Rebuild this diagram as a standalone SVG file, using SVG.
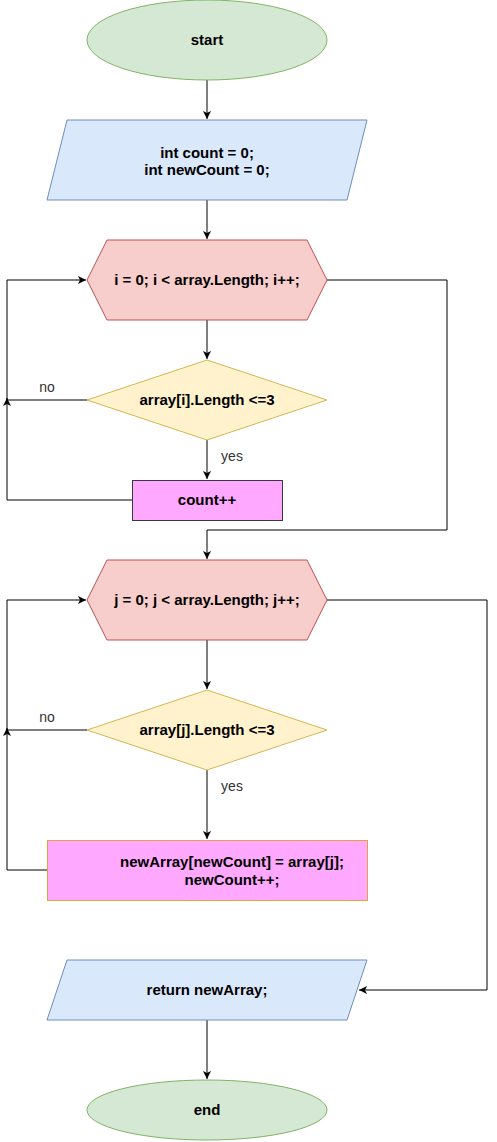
<svg xmlns="http://www.w3.org/2000/svg" width="497" height="1142" viewBox="0 0 497 1142">
<defs>
<marker id="arr" markerWidth="9" markerHeight="9" refX="8" refY="4.5" orient="auto" markerUnits="userSpaceOnUse">
<path d="M0,0.5 L8,4.5 L0,8.5 L2,4.5 Z" fill="#000"/>
</marker>
<style>
text{font-family:"Liberation Sans",Arial,sans-serif;font-size:15px;text-anchor:middle;fill:#000}
.b{font-weight:bold}
.lbl{fill:#333;font-size:14px}
.term{fill:#d5e8d4;stroke:#82b366}
.io{fill:#dae8fc;stroke:#6c8ebf}
.loop{fill:#f8cecc;stroke:#b85450}
.dec{fill:#fff2cc;stroke:#d6b656}
.proc{fill:#ffa8ff}
.e{fill:none;stroke:#000;stroke-width:1}
</style>
</defs>
<rect width="497" height="1142" fill="#fff"/>
<g id="connectors">
<path class="e" d="M207,80 V119" marker-end="url(#arr)"/>
<path class="e" d="M207,200 V239" marker-end="url(#arr)"/>
<path class="e" d="M207,320 V359" marker-end="url(#arr)"/>
<path class="e" d="M207,440 V479" marker-end="url(#arr)"/>
<path class="e" d="M132,500 H7 V280 H86" marker-end="url(#arr)"/>
<path class="e" d="M87,400 H7 V398" marker-end="url(#arr)"/>
<path class="e" d="M327,280 H447 V530 H207 V559" marker-end="url(#arr)"/>
<path class="e" d="M207,640 V689" marker-end="url(#arr)"/>
<path class="e" d="M207,770 V839" marker-end="url(#arr)"/>
<path class="e" d="M47,870 H7 V600 H86" marker-end="url(#arr)"/>
<path class="e" d="M87,730 H7 V728" marker-end="url(#arr)"/>
<path class="e" d="M327,600 H487 V990 H359" marker-end="url(#arr)"/>
<path class="e" d="M207,1020 V1079" marker-end="url(#arr)"/>
<text class="lbl" x="47" y="392">no</text>
<text class="lbl" x="232" y="461">yes</text>
<text class="lbl" x="47" y="722">no</text>
<text class="lbl" x="232" y="791">yes</text>
</g>
<g id="start">
<ellipse class="term" cx="207" cy="40" rx="120" ry="40"/>
<text class="b" x="207" y="45">start</text>
</g>
<g id="init">
<polygon class="io" points="67,120 367,120 347,200 47,200"/>
<text class="b" x="207" y="158">int count = 0;</text>
<text class="b" x="207" y="175">int newCount = 0;</text>
</g>
<g id="loop1">
<polygon class="loop" points="107,240 307,240 327,280 307,320 107,320 87,280"/>
<text class="b" x="207" y="285">i = 0; i &lt; array.Length; i++;</text>
</g>
<g id="cond1">
<polygon class="dec" points="207,360 327,400 207,440 87,400"/>
<text class="b" x="207" y="405">array[i].Length &lt;=3</text>
</g>
<g id="count">
<rect class="proc" x="132.5" y="480.5" width="150" height="40" stroke="#36393d"/>
<text class="b" x="207" y="505">count++</text>
</g>
<g id="loop2">
<polygon class="loop" points="107,560 307,560 327,600 307,640 107,640 87,600"/>
<text class="b" x="207" y="605">j = 0; j &lt; array.Length; j++;</text>
</g>
<g id="cond2">
<polygon class="dec" points="207,690 327,730 207,770 87,730"/>
<text class="b" x="207" y="735">array[j].Length &lt;=3</text>
</g>
<g id="assign">
<rect class="proc" x="47.5" y="840.5" width="320" height="60" stroke="#e6a23c"/>
<text class="b" x="232" y="867">newArray[newCount] = array[j];</text>
<text class="b" x="232" y="885">newCount++;</text>
</g>
<g id="ret">
<polygon class="io" points="67,960 367,960 347,1020 47,1020"/>
<text class="b" x="207" y="995">return newArray;</text>
</g>
<g id="end">
<ellipse class="term" cx="207" cy="1110" rx="120" ry="30"/>
<text class="b" x="207" y="1115">end</text>
</g>
</svg>
